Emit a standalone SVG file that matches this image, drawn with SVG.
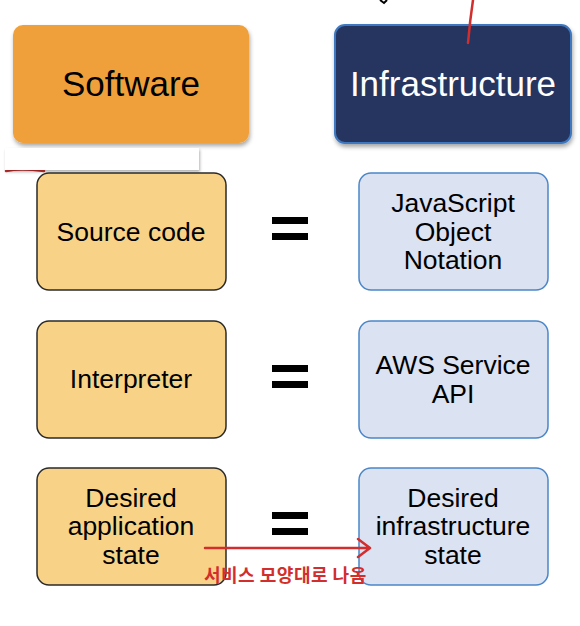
<svg xmlns="http://www.w3.org/2000/svg" width="580" height="626" viewBox="0 0 580 626">
<defs>
<filter id="sh" x="-10%" y="-10%" width="125%" height="130%"><feDropShadow dx="1" dy="3" stdDeviation="2" flood-color="#000" flood-opacity="0.35"/></filter>
<filter id="sh2" x="-10%" y="-30%" width="120%" height="180%"><feDropShadow dx="1" dy="2" stdDeviation="1.5" flood-color="#000" flood-opacity="0.3"/></filter>
</defs>
<style>
text{font-family:"Liberation Sans",Arial,sans-serif;text-anchor:middle;fill:#000}
.head{font-size:35px}
.lb{font-size:26.5px}
.sw{fill:#F0A03B}
.inf{fill:#263660;stroke:#3E78C0;stroke-width:2}
.left{fill:#F8D387;stroke:#2a2a2a;stroke-width:1.5}
.right{fill:#DBE2F1;stroke:#4A86C8;stroke-width:1.5}
.eq{fill:#000}
.red{stroke:#D22E2E;stroke-width:2.5;fill:none;stroke-linecap:round;stroke-linejoin:round}
.kr{font-family:"Noto Sans CJK KR","Noto Sans CJK SC",sans-serif;font-size:18px;font-weight:bold;fill:#D22E2E;text-anchor:start;letter-spacing:0.5px}
</style>
<rect width="580" height="626" fill="#fff"/>
<path d="M380 0 L384 3 L387 0" stroke="#000" stroke-width="2" fill="none"/>
<g id="software"><rect class="sw" x="13" y="25" width="236" height="118" rx="10" filter="url(#sh)"/><text class="head" x="131" y="96">Software</text></g>
<g id="infrastructure"><rect class="inf" x="335" y="25" width="236" height="118" rx="10" filter="url(#sh)"/><text class="head" x="453" y="96" style="fill:#fff">Infrastructure</text></g>
<path class="red" d="M473 0 Q470 20 468 43"/>
<path class="red" d="M6 171 Q20 168 44 171" stroke-width="3"/>
<rect x="5" y="148" width="194" height="22" fill="#fff" filter="url(#sh2)"/>
<g id="source-code"><rect class="left" x="37" y="173" width="189" height="117" rx="12"/><text class="lb" x="131" y="241">Source code</text></g>
<g id="json"><rect class="right" x="359" y="173" width="189" height="117" rx="12"/><text class="lb" x="453" y="212">JavaScript</text><text class="lb" x="453" y="241">Object</text><text class="lb" x="453" y="269">Notation</text></g>
<g id="interpreter"><rect class="left" x="37" y="321" width="189" height="117" rx="12"/><text class="lb" x="131" y="388">Interpreter</text></g>
<g id="aws-api"><rect class="right" x="359" y="321" width="189" height="117" rx="12"/><text class="lb" x="453" y="374">AWS Service</text><text class="lb" x="453" y="403">API</text></g>
<g id="desired-app"><rect class="left" x="37" y="468" width="189" height="117" rx="12"/><text class="lb" x="131" y="507">Desired</text><text class="lb" x="131" y="535">application</text><text class="lb" x="131" y="564">state</text></g>
<g id="desired-infra"><rect class="right" x="359" y="468" width="189" height="117" rx="12"/><text class="lb" x="453" y="507">Desired</text><text class="lb" x="453" y="535">infrastructure</text><text class="lb" x="453" y="564">state</text></g>
<g id="connectors">
<rect class="eq" x="272" y="217" width="36" height="7"/><rect class="eq" x="272" y="233" width="36" height="7"/>
<rect class="eq" x="272" y="365" width="36" height="7"/><rect class="eq" x="272" y="381" width="36" height="7"/>
<rect class="eq" x="272" y="512" width="36" height="7"/><rect class="eq" x="272" y="528" width="36" height="7"/>
<path class="red" d="M205 548 L369 548 M358 539 L370 548 L358 557"/>
</g>
<text class="kr" x="204" y="582">서비스 모양대로 나옴</text>
</svg>
